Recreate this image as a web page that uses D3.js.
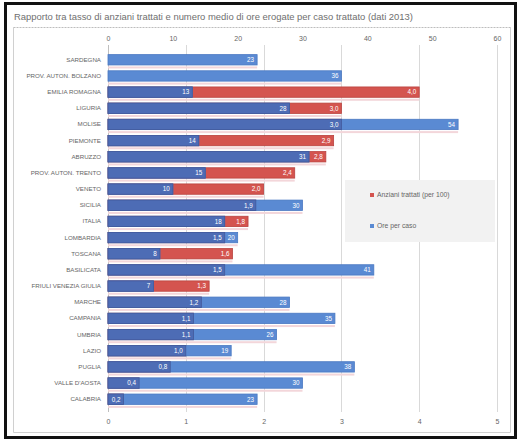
<!DOCTYPE html>
<html>
<head>
<meta charset="utf-8">
<script src="https://cdn.jsdelivr.net/npm/d3@7"></script>
<style>
  body { margin: 0; background: #fff; }
  text { font-family: 'Liberation Sans', Arial, sans-serif; }
</style>
</head>
<body>
<script>
const width = 525;
const height = 440;

// dati 2013
const regioni = ['SARDEGNA', 'PROV. AUTON. BOLZANO', 'EMILIA ROMAGNA', 'LIGURIA', 'MOLISE', 'PIEMONTE',
    'ABRUZZO', 'PROV. AUTON. TRENTO', 'VENETO', 'SICILIA', 'ITALIA', 'LOMBARDIA', 'TOSCANA',
    'BASILICATA', 'FRIULI VENEZIA GIULIA', 'MARCHE', 'CAMPANIA', 'UMBRIA', 'LAZIO', 'PUGLIA',
    "VALLE D'AOSTA", 'CALABRIA'];
const anzianiTrattati = [null, null, 4.0, 3.0, 3.0, 2.9, 2.8, 2.4, 2.0, 1.9, 1.8, 1.5, 1.6,
    1.5, 1.3, 1.2, 1.1, 1.1, 1.0, 0.8, 0.4, 0.2];
const orePerCaso = [23, 36, 13, 28, 54, 14, 31, 15, 10, 30, 18, 20, 8, 41, 7, 28, 35, 26, 19, 38, 30, 23];
const tickOre = [0, 10, 20, 30, 40, 50, 60];
const tickAnziani = [0, 1, 2, 3, 4, 5];
const serie = ['Anziani trattati (per 100)', 'Ore per caso'];

const rosso = '#d4544f';
const blu = '#5a8ad3';
const bluScuro = '#4d6cb5';
const grigioTesto = '#666';

const data = regioni.map((r, i) => ({ regione: r, anziani: anzianiTrattati[i], ore: orePerCaso[i] }));

var xOre = d3.scaleLinear().domain([0, 60]).range([108, 497]);
var xAnz = d3.scaleLinear().domain([0, 5]).range([108, 497]);
var y = d3.scaleBand().domain(regioni).range([48.8, 410.2]).padding(0.36);

const fmt = v => d3.format('.1f')(v).replace('.', ',');

const svg = d3.select('body')
    .append('svg')
    .attr('width', width)
    .attr('height', height);

svg.append('rect').attr('width', width).attr('height', height).attr('fill', '#fff');

// cornice nera
svg.append('rect')
    .attr('x', 5.5).attr('y', 3.5)
    .attr('width', 510).attr('height', 434)
    .attr('fill', 'none')
    .attr('stroke', '#111')
    .attr('stroke-width', 3);

// bordo grafico
svg.append('path')
    .attr('d', 'M13.5,27.5 V432.5 H510.5 V27.5')
    .attr('fill', 'none')
    .attr('stroke', '#d0d0d0');
svg.append('line')
    .attr('x1', 13.5).attr('x2', 510.5).attr('y1', 27.5).attr('y2', 27.5)
    .attr('stroke', '#bdbdbd')
    .attr('stroke-dasharray', '2,1');

svg.append('text')
    .attr('x', 14).attr('y', 20)
    .attr('font-size', 9.5)
    .attr('fill', '#6f6f6f')
    .attr('textLength', 399)
    .attr('lengthAdjust', 'spacingAndGlyphs')
    .text('Rapporto tra tasso di anziani trattati e numero medio di ore erogate per caso trattato (dati 2013)');

// griglia verticale
svg.append('g')
    .selectAll('line')
    .data(tickAnziani.slice(1))
    .enter()
    .append('line')
    .attr('x1', d => Math.round(xAnz(d)) + 0.5)
    .attr('x2', d => Math.round(xAnz(d)) + 0.5)
    .attr('y1', 45).attr('y2', 412)
    .attr('stroke', '#d9d9d9');

svg.append('line')
    .attr('x1', 108.5).attr('x2', 108.5).attr('y1', 45).attr('y2', 412)
    .attr('stroke', '#bfbfbf');

// assi
const topAxis = svg.append('g')
    .attr('transform', 'translate(0, 41)')
    .call(d3.axisTop(xOre).tickValues(tickOre).tickFormat(d3.format('d')).tickSize(0).tickPadding(0));
const bottomAxis = svg.append('g')
    .attr('transform', 'translate(0, 418)')
    .call(d3.axisBottom(xAnz).tickValues(tickAnziani).tickFormat(d3.format('d')).tickSize(0).tickPadding(1));
[topAxis, bottomAxis].forEach(a => {
    a.select('.domain').remove();
    a.selectAll('text').attr('font-size', 7).attr('fill', grigioTesto)
        .style('font-family', "'Liberation Sans', Arial, sans-serif");
});

const leftAxis = svg.append('g')
    .attr('transform', 'translate(101, 0)')
    .call(d3.axisLeft(y).tickSize(0).tickPadding(0));
leftAxis.select('.domain').remove();
leftAxis.selectAll('text')
    .attr('font-size', 6.2)
    .attr('fill', grigioTesto)
    .style('font-family', "'Liberation Sans', Arial, sans-serif");

// alone sotto le barre
svg.append('g')
    .selectAll('rect')
    .data(data)
    .enter()
    .append('rect')
    .attr('x', 108)
    .attr('y', d => y(d.regione) + y.bandwidth() + 1.5)
    .attr('width', d => Math.max(xOre(d.ore), d.anziani ? xAnz(d.anziani) : 0) - 108)
    .attr('height', 2)
    .attr('fill', '#f3d6da');

// barre anziani (sotto)
svg.append('g')
    .selectAll('rect')
    .data(data.filter(d => d.anziani != null))
    .enter()
    .append('rect')
    .attr('x', 108)
    .attr('y', d => y(d.regione))
    .attr('width', d => xAnz(d.anziani) - 108)
    .attr('height', y.bandwidth())
    .attr('fill', rosso)
    .attr('stroke', '#b9433f')
    .attr('stroke-width', 0.8);

// barre ore
svg.append('g')
    .selectAll('rect')
    .data(data)
    .enter()
    .append('rect')
    .attr('x', 108)
    .attr('y', d => y(d.regione))
    .attr('width', d => xOre(d.ore) - 108)
    .attr('height', y.bandwidth())
    .attr('fill', blu)
    .attr('stroke', '#4a78c2')
    .attr('stroke-width', 0.8);

// sovrapposizione
svg.append('g')
    .selectAll('rect')
    .data(data.filter(d => d.anziani != null))
    .enter()
    .append('rect')
    .attr('x', 108)
    .attr('y', d => y(d.regione))
    .attr('width', d => Math.min(xAnz(d.anziani), xOre(d.ore)) - 108)
    .attr('height', y.bandwidth())
    .attr('fill', bluScuro)
    .attr('stroke', '#43599c')
    .attr('stroke-width', 0.8);

// etichette
const etichette = svg.append('g')
    .attr('font-size', 6.3)
    .attr('fill', '#fff')
    .attr('text-anchor', 'end');
etichette.selectAll('.ore')
    .data(data)
    .enter()
    .append('text')
    .attr('x', d => xOre(d.ore) - 3)
    .attr('y', d => y(d.regione) + y.bandwidth() / 2 + 2.3)
    .text(d => d.ore);
etichette.selectAll('.anz')
    .data(data.filter(d => d.anziani != null))
    .enter()
    .append('text')
    .attr('x', d => xAnz(d.anziani) - 3)
    .attr('y', d => y(d.regione) + y.bandwidth() / 2 + 2.3)
    .text(d => fmt(d.anziani));

// legenda
const legenda = svg.append('g');
legenda.append('rect')
    .attr('x', 345).attr('y', 180)
    .attr('width', 150).attr('height', 62)
    .attr('fill', '#f2f2f2');
legenda.selectAll('g')
    .data(serie)
    .enter()
    .append('g')
    .attr('transform', (d, i) => `translate(370, ${197 + i * 31})`)
    .each(function(d, i) {
        d3.select(this).append('rect')
            .attr('x', 0).attr('y', -4)
            .attr('width', 4).attr('height', 4)
            .attr('fill', i === 0 ? rosso : blu);
        d3.select(this).append('text')
            .attr('x', 7).attr('y', 0)
            .attr('font-size', 6.8)
            .attr('fill', grigioTesto)
            .text(d);
    });
</script>
</body>
</html>
